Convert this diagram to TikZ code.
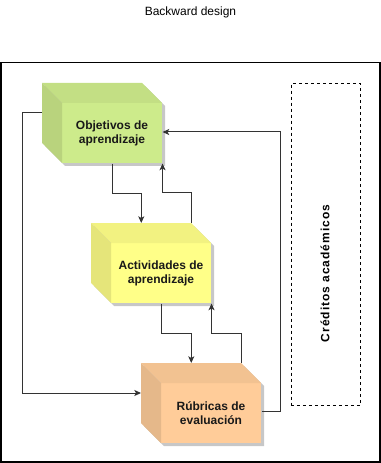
\documentclass[tikz,border=0pt]{standalone}
\usepackage{fontspec}
\setmainfont{Liberation Sans}
\usetikzlibrary{calc,arrows.meta}
\definecolor{gfront}{HTML}{CDEB8B}
\definecolor{yfront}{HTML}{FFFF88}
\definecolor{ofront}{HTML}{FFCC99}
\tikzset{
  cubebox/.style={draw=none, inner sep=0pt, minimum width=90pt, minimum height=60pt, anchor=north west},
  cubelabel/.style={font=\bfseries\fontsize{9pt}{10.5pt}\selectfont, align=center, text=black!90, inner sep=0pt},
  conn/.style={draw=black!80, line width=0.75pt},
  arr/.style={conn, -{Stealth[length=5pt, width=4.5pt, inset=1.2pt]}},
  outerbox/.style={draw=black, line width=1.1pt},
  dashbox/.style={draw=black, line width=0.6pt, dash pattern=on 2.25pt off 2.25pt},
}
\newcommand{\drawcube}[5]{%
  \node[cubebox] (#1) at (#2,#3) {};
  \fill[black!22] ($(#1.north west)+(3,3)$) -- ++(100,0) -- ++(20,20) -- ++(0,60) -- ++(-100,0) -- ++(-20,-20) -- cycle;
  \fill[#4] ($(#1.north west)+(20,20)$) rectangle ++(100,60);
  \fill[#4!95!black] (#1.north west) -- ++(100,0) -- ++(20,20) -- ++(-100,0) -- cycle;
  \fill[#4!90!black] (#1.north west) -- ++(20,20) -- ++(0,60) -- ++(-20,-20) -- cycle;
  \node[cubelabel] (#1t) at ($(#1.north west)+(70,50)$) {#5};
}
\begin{document}
\begin{tikzpicture}[x=0.75pt,y=-0.75pt]
\useasboundingbox (0,0) rectangle (381,463);
\node[font=\fontsize{9pt}{10.5pt}\selectfont, inner sep=0pt] (title) at (190.5,12) {Backward design};
\draw[outerbox] (1,62.5) rectangle (380,462);
\node[dashbox, minimum width=52pt, minimum height=241.5pt, inner sep=0pt, anchor=north west] (cred) at (290.5,83) {};
\node[rotate=90, font=\bfseries\fontsize{9pt}{10.5pt}\selectfont\addfontfeature{LetterSpace=8}, inner sep=0pt] (credt) at (325,273.5) {Créditos académicos};
\drawcube{c1}{42}{83}{gfront}{Objetivos de\\aprendizaje}
\drawcube{c2}{91}{223}{yfront}{Actividades de\\aprendizaje}
\drawcube{c3}{141}{363}{ofront}{Rúbricas de\\evaluación}
% connectors
\draw[arr] ($(c1.north west)+(0,30)$) -- ++(-20,0) |- ($(c3.north west)+(0,30)$);
\draw[arr] ($(c1.south)+(10,0)$) -- ++(0,30) -| ($(c2.north)+(-10,0)$);
\draw[arr] ($(c2.north west)+(100,0)$) -- ++(0,-30) -| (c1.south east);
\draw[arr] ($(c3.north east)+(0,48)$) -- ++(19,0) |- ($(c1.north east)+(0,49)$);
\draw[arr] ($(c2.south)+(10,0)$) -- ++(0,30) -| ($(c3.north)+(-10,0)$);
\draw[arr] ($(c3.north west)+(100,0)$) -- ++(0,-30) -| (c2.south east);
\end{tikzpicture}
\end{document}
